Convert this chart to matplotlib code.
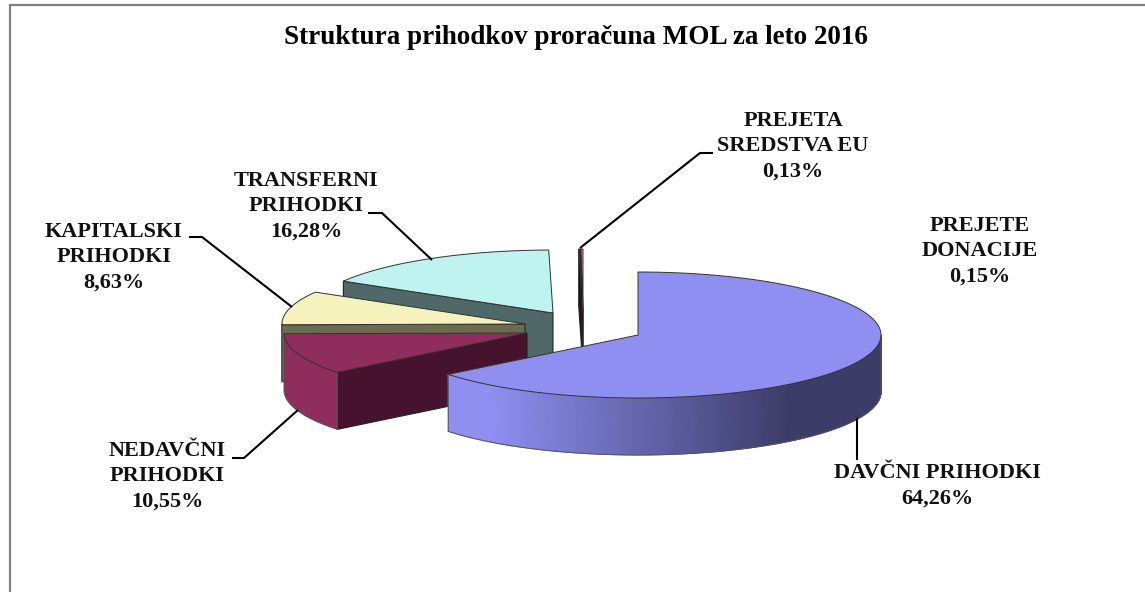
#!/usr/bin/env python3
"""Struktura prihodkov - exploded 3D pie, drawn by hand on pixel-sized axes."""

import numpy as np
import matplotlib
matplotlib.use("Agg")
import matplotlib.pyplot as plt
from matplotlib.colors import LinearSegmentedColormap

TITLE = "Struktura prihodkov proračuna MOL za leto 2016"

# -------------------------------
# Data (clockwise from 12 o'clock)
# -------------------------------
categories = ["DAVČNI PRIHODKI", "NEDAVČNI\nPRIHODKI", "KAPITALSKI\nPRIHODKI",
              "TRANSFERNI\nPRIHODKI", "PREJETE\nDONACIJE", "PREJETA\nSREDSTVA EU"]
shares = [64.26, 10.55, 8.63, 16.28, 0.15, 0.13]
share_labels = ["64,26%", "10,55%", "8,63%", "16,28%", "0,15%", "0,13%"]

top_colors = ["#8f8ff2", "#8f2d5c", "#f5f2bd", "#bff3f0", "#66105c", "#f07a78"]
wall_colors = ["#8f8ff2", "#8f2d5c", "#6b6b50", "#506868", "#3a0a36", "#3a0a36"]
face_colors = ["#3c3c68", "#45132d", "#6b6b50", "#506868", "#2a0828", "#2a0828"]

# -------------------------------
# Layout (pixels)
# -------------------------------
W, H = 1145, 592
RX, RY, DEPTH = 243, 63, 57
centers = [(638, 335), (527, 333), (525, 324), (553, 313), (583, 312), (583, 312)]
label_pos = [(937, 486), (167, 476), (114, 257), (306, 206), (980, 251), (793, 146)]
leaders = [
    [(857, 418), (857, 460)],
    [(232, 458), (244, 458), (298, 410)],
    [(189, 237), (202, 237), (292, 307)],
    [(368, 213), (382, 213), (432, 260)],
    None,
    [(713, 153), (700, 153), (580, 248)],
]
paint_order = [3, 4, 5, 2, 1, 0]

fig = plt.figure(figsize=(W / 100, H / 100), dpi=100)
ax = fig.add_axes([0, 0, 1, 1])
ax.set_xlim(0, W)
ax.set_ylim(H, 0)
ax.axis("off")

FONT = "Liberation Serif"
wall_cmap = LinearSegmentedColormap.from_list("wall", ["#8f8ff2", "#3c3c68"])


def rim(cx, cy, a0, a1, n=120):
    t = np.radians(np.linspace(a0, a1, n))
    return cx + RX * np.sin(t), cy - RY * np.cos(t)


def draw_slice(i, a0, a1, z):
    cx, cy = centers[i]
    edge = "#222222"

    # radial face on the front side
    if 180 < a0 < 360:
        x0, y0 = rim(cx, cy, a0, a0, 1)
        ax.fill([cx, x0[0], x0[0], cx], [cy, y0[0], y0[0] + DEPTH, cy + DEPTH],
                fc=face_colors[i], ec=edge, lw=0.8, zorder=z)

    # outer wall, front half only
    w0, w1 = max(a0, 90), min(a1, 270)
    if w1 > w0:
        xs, ys = rim(cx, cy, w0, w1, 160)
        if i == 0:
            # the long outer wall of the big slice darkens to the right
            X = np.vstack([xs, xs])
            Y = np.vstack([ys, ys + DEPTH])
            C = np.clip((X - 490) / 300.0, 0, 1)
            ax.pcolormesh(X, Y, C, cmap=wall_cmap, vmin=0, vmax=1, shading="gouraud",
                          zorder=z + 0.1)
        else:
            ax.fill(np.r_[xs, xs[::-1]], np.r_[ys, ys[::-1] + DEPTH],
                    fc=wall_colors[i], ec="none", zorder=z + 0.1)
        ax.plot(np.r_[xs[0], xs[0], xs, xs[-1], xs[-1]],
                np.r_[ys[0], ys[0] + DEPTH, ys + DEPTH, ys[-1] + DEPTH, ys[-1]],
                color="#555555", lw=0.7, zorder=z + 0.2)

    # top surface
    xs, ys = rim(cx, cy, a0, a1)
    ax.fill(np.r_[cx, xs], np.r_[cy, ys], fc=top_colors[i], ec="#333333", lw=0.7,
            zorder=z + 0.3)


# -------------------------------
# Slices, back to front
# -------------------------------
bounds = np.r_[0, np.cumsum(shares)] / np.sum(shares) * 360.0
for k, i in enumerate(paint_order):
    draw_slice(i, bounds[i], bounds[i + 1], 2 + k)

# -------------------------------
# Texts and leader lines
# -------------------------------
ax.text(575.5, 38, TITLE, family=FONT, fontweight="bold", fontsize=19.5, ha="center",
        va="center", color="black")

for cat, lab, (x, y) in zip(categories, share_labels, label_pos):
    ax.text(x, y, f"{cat}\n{lab}", family=FONT, fontweight="bold", fontsize=16, ha="center",
            va="center", linespacing=1.36, color="#111111", zorder=12)

for seg in leaders:
    if seg is None:
        continue
    ax.plot([p[0] for p in seg], [p[1] for p in seg], color="black", lw=1.5, zorder=11,
            solid_capstyle="butt")

# chart frame, cut off at right and bottom
ax.plot([9.5, 9.5, W], [H, 4.5, 4.5], color="#808080", lw=1.6, zorder=1,
        solid_joinstyle="miter")

fig.savefig("out.png", dpi=100, facecolor="white")
